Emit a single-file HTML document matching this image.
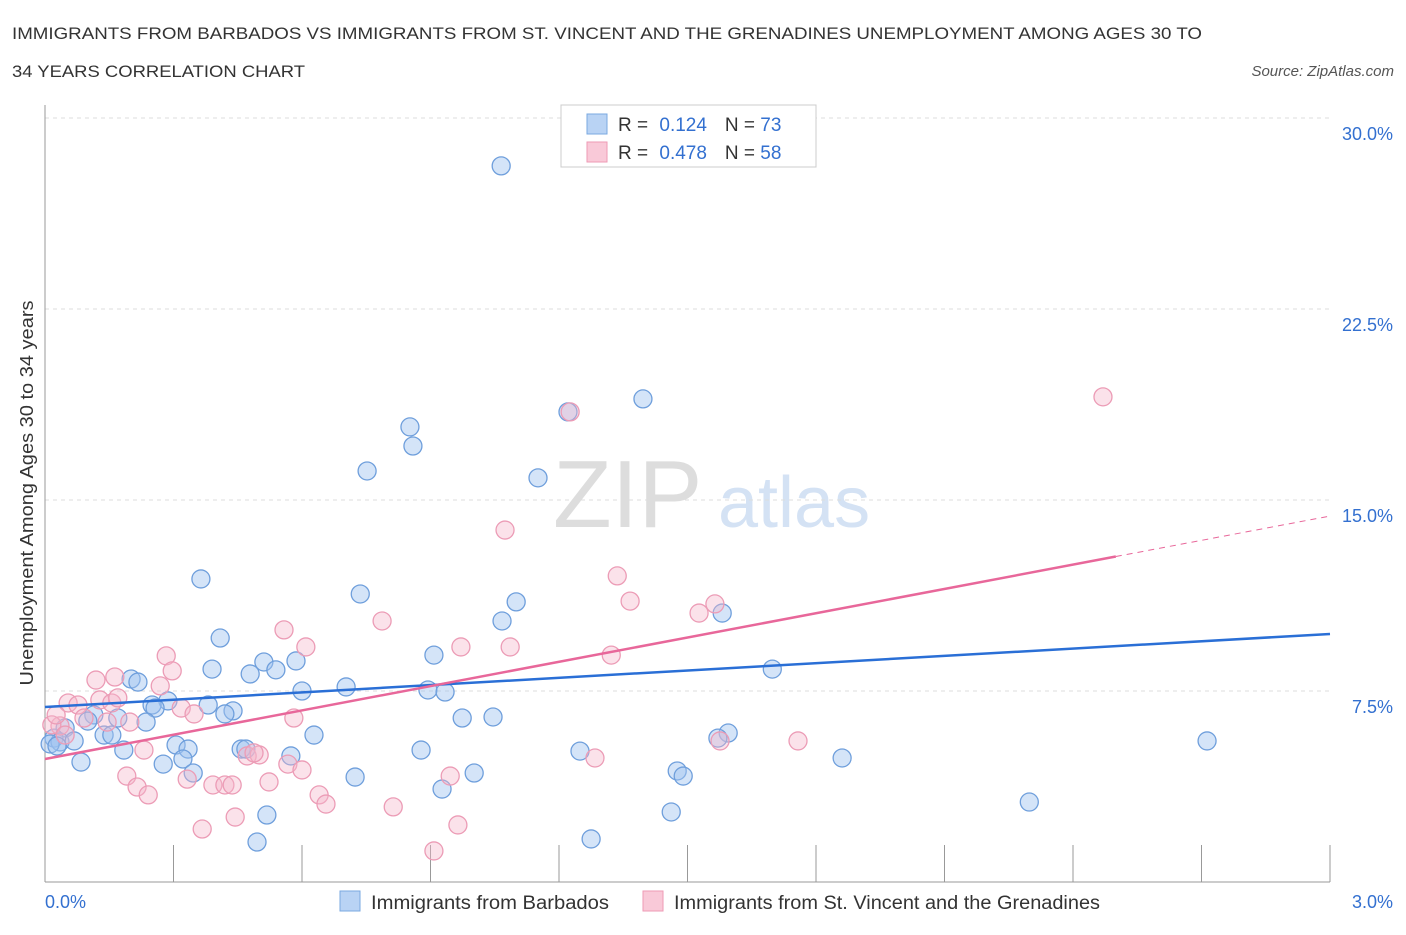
<!DOCTYPE html>
<html><head><meta charset="utf-8">
<style>
body{margin:0;background:#fff;font-family:"Liberation Sans",sans-serif;}
svg text{font-family:"Liberation Sans",sans-serif;}
</style></head>
<body>
<svg width="1406" height="930" viewBox="0 0 1406 930" xmlns="http://www.w3.org/2000/svg">
<text x="12" y="39" font-size="17" fill="#333" textLength="1190" lengthAdjust="spacingAndGlyphs">IMMIGRANTS FROM BARBADOS VS IMMIGRANTS FROM ST. VINCENT AND THE GRENADINES UNEMPLOYMENT AMONG AGES 30 TO</text>
<text x="12" y="77" font-size="17" fill="#333" textLength="293" lengthAdjust="spacingAndGlyphs">34 YEARS CORRELATION CHART</text>
<text x="1394" y="76" font-size="15" fill="#555" font-style="italic" text-anchor="end">Source: ZipAtlas.com</text>
<g>
<text x="553" y="527" font-size="96" fill="#ddd" font-family="Liberation Serif,serif">ZIP</text>
<text x="718" y="527" font-size="72" fill="#d4e2f4">atlas</text>
</g>
<g id="grid"></g>
<g id="axes"></g>
<g id="points"></g>
<g id="trends"></g>
<text x="33" y="493" font-size="18" fill="#333" text-anchor="middle" textLength="385" lengthAdjust="spacingAndGlyphs" transform="rotate(-90 33 493)">Unemployment Among Ages 30 to 34 years</text>
<g>
<rect x="561" y="105" width="255" height="62" fill="#fff" stroke="#ccc"/>
<rect x="587" y="114" width="20" height="20" fill="#b9d3f4" stroke="#7aa8e0"/>
<rect x="587" y="142" width="20" height="20" fill="#f9c9d8" stroke="#ee9ab5"/>
<text x="618" y="131" font-size="19" fill="#333">R = <tspan fill="#3370d0" dx="6">0.124</tspan><tspan dx="18">N = </tspan><tspan fill="#3370d0">73</tspan></text>
<text x="618" y="159" font-size="19" fill="#333">R = <tspan fill="#3370d0" dx="6">0.478</tspan><tspan dx="18">N = </tspan><tspan fill="#3370d0">58</tspan></text>
</g>
<g>
<rect x="340" y="891" width="20" height="20" fill="#b9d3f4" stroke="#7aa8e0"/>
<text x="371" y="909" font-size="19" fill="#333" textLength="238" lengthAdjust="spacingAndGlyphs">Immigrants from Barbados</text>
<rect x="643" y="891" width="20" height="20" fill="#f9c9d8" stroke="#ee9ab5"/>
<text x="674" y="909" font-size="19" fill="#333" textLength="426" lengthAdjust="spacingAndGlyphs">Immigrants from St. Vincent and the Grenadines</text>
</g>
</svg>
<script>
const blueX=[1.065,1.396,0.852,0.859,0.752,1.151,1.221,0.364,0.736,1.100,1.067,1.581,0.409,0.908,0.586,0.511,0.390,0.539,0.479,1.698,0.201,0.217,0.703,0.600,0.894,0.934,0.287,0.250,0.257,0.381,0.439,0.420,0.114,0.170,0.974,1.046,0.236,0.100,0.047,0.138,0.156,0.628,1.595,1.571,0.021,0.035,0.068,0.012,0.028,0.306,0.334,0.184,0.458,0.469,0.878,1.249,0.574,0.322,0.084,0.276,1.861,2.713,0.346,0.724,1.002,1.476,1.490,0.927,0.518,1.462,2.298,1.275,0.495];
const blueY=[28.12,18.97,17.87,17.12,16.14,15.87,18.46,11.90,11.31,11.00,10.25,10.56,9.58,8.91,8.68,8.64,8.36,8.33,8.17,8.36,7.97,7.85,7.66,7.50,7.54,7.46,7.11,6.95,6.83,6.95,6.72,6.60,6.56,6.44,6.44,6.48,6.28,6.32,6.05,5.77,5.77,5.77,5.85,5.65,5.65,5.50,5.54,5.42,5.34,5.38,5.22,5.18,5.22,5.22,5.18,5.14,4.95,4.83,4.71,4.63,4.87,5.54,4.28,4.12,4.28,4.36,4.16,3.65,2.63,2.75,3.14,1.69,1.57];
const pinkX=[2.470,1.074,1.336,1.366,1.527,1.564,1.226,0.787,0.558,0.609,0.971,1.086,0.283,0.297,1.322,0.119,0.163,0.269,0.054,0.077,0.128,0.156,0.170,0.318,0.348,0.091,0.198,0.581,0.035,0.016,0.047,1.758,1.576,0.231,0.472,0.500,0.488,0.567,0.600,0.191,0.332,0.215,0.392,0.420,0.437,0.523,0.241,0.640,0.656,0.813,0.946,1.284,0.444,0.964,0.367,0.908,0.026,0.145];
const pinkY=[19.05,13.82,12.02,11.03,10.56,10.92,18.46,10.25,9.90,9.23,9.23,9.23,8.88,8.29,8.91,7.93,8.05,7.70,7.03,6.95,7.15,7.03,7.23,6.83,6.60,6.44,6.28,6.44,6.13,6.17,5.77,5.54,5.54,5.18,4.95,4.99,5.07,4.63,4.40,4.16,4.04,3.73,3.81,3.81,3.81,3.93,3.42,3.42,3.06,2.95,4.16,4.87,2.55,2.24,2.08,1.22,6.56,6.28];
const yTicks=[7.5,15.0,22.5,30.0];
const yTickLabels=["7.5%","15.0%","22.5%","30.0%"];
const xTicks=[0,0.3,0.6,0.9,1.2,1.5,1.8,2.1,2.4,2.7,3.0];
const blueTrend=[6.87,9.74];
const pinkTrend=[4.83,14.37];
const pinkSolidEnd=2.5;
const NS="http://www.w3.org/2000/svg";
const X=v=>45+v/3*1285, Y=v=>882-v/30*764;
function mk(t,a,p){const e=document.createElementNS(NS,t);for(const k in a)e.setAttribute(k,a[k]);document.getElementById(p).appendChild(e);return e;}
yTicks.forEach((v,i)=>{
 const g=mk('line',{x1:45,x2:1330,y1:Y(v),y2:Y(v),stroke:'#ddd','stroke-dasharray':'4,4'},'grid');
 
 
 const t=mk('text',{x:1393,y:Y(v)+22,'font-size':18,fill:'#3370d0','text-anchor':'end'},'axes');
 t.textContent=yTickLabels[i];
 
 
});
let ax=mk('line',{x1:45,x2:45,y1:105,y2:882,stroke:'#999'},'axes');


ax=mk('line',{x1:45,x2:1330,y1:882,y2:882,stroke:'#999'},'axes');


xTicks.forEach(v=>{const l=mk('line',{x1:X(v),x2:X(v),y1:845,y2:882,stroke:'#999'},'axes');
 
 });
let t=mk('text',{x:45,y:908,'font-size':18,fill:'#3370d0'},'axes');t.textContent='0.0%';


t=mk('text',{x:1393,y:908,'font-size':18,fill:'#3370d0','text-anchor':'end'},'axes');t.textContent='3.0%';


blueX.forEach((x,i)=>{const c=mk('circle',{cx:X(x),cy:Y(blueY[i]),r:9,fill:'rgba(160,196,240,0.45)',stroke:'#6f9fdc','stroke-width':1.3},'points');
 
 });
pinkX.forEach((x,i)=>{const c=mk('circle',{cx:X(x),cy:Y(pinkY[i]),r:9,fill:'rgba(246,182,202,0.4)',stroke:'#ec9cb6','stroke-width':1.3},'points');
 
 });
let l=mk('line',{x1:X(0),y1:Y(blueTrend[0]),x2:X(3),y2:Y(blueTrend[1]),stroke:'#2a6fd6','stroke-width':2.5},'trends');


const py=v=>pinkTrend[0]+(pinkTrend[1]-pinkTrend[0])*v/3;
l=mk('line',{x1:X(0),y1:Y(py(0)),x2:X(pinkSolidEnd),y2:Y(py(pinkSolidEnd)),stroke:'#e8679a','stroke-width':2.5},'trends');


l=mk('line',{x1:X(pinkSolidEnd),y1:Y(py(pinkSolidEnd)),x2:X(3),y2:Y(py(3)),stroke:'#e8679a','stroke-width':1,'stroke-dasharray':'6,5'},'trends');


</script>
</body></html>
